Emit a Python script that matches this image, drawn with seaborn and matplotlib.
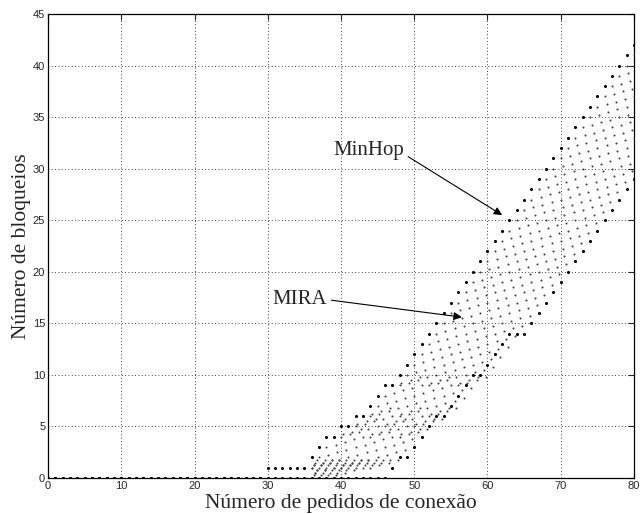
import numpy as np
import pandas as pd
import matplotlib
matplotlib.use("Agg")
import matplotlib.pyplot as plt
import seaborn as sns

# numero de pedidos de conexao
x_all = list(range(0, 81))

# serie superior (pontos escuros)
upper = [0] * 30 + [1, 1, 1, 1, 1, 1,
         2, 3, 4, 4, 5, 5, 6, 6, 7, 8, 9, 9,
         10, 11, 12, 13, 14, 15, 16, 17, 18, 19, 20, 21, 22, 23, 24, 25, 26,
         27, 28, 29, 30, 31, 32, 33, 34, 35, 36, 37, 38, 39, 40, 41, 42]

# serie inferior (pontos escuros)
lower = [0] * 47 + [1, 2, 2, 3, 4, 5, 6, 6, 7, 8, 9, 10, 10, 11, 12, 13,
                    14, 14, 14, 15, 16, 17, 18, 19, 20, 21, 22, 23, 24, 25,
                    26, 27, 28, 29]

# series intermediarias (pontos claros), valores de x = 36 ... 80
band_x = list(range(36, 81))
band = [
    [1, 2, 3, 4, 4, 5, 5, 6, 6, 7, 8, 9, 9, 10, 11, 12, 13, 14, 15, 16, 17,
     18, 19, 20, 21, 22, 23, 24, 25, 26, 27, 28, 29, 30, 31, 32, 33, 34, 35,
     36, 37, 38, 39, 40, 41],
    [1, 1, 2, 3, 4, 4, 5, 5, 6, 6, 7, 8, 9, 9, 10, 11, 12, 13, 14, 15, 16,
     17, 18, 19, 20, 21, 22, 23, 24, 25, 26, 27, 28, 29, 30, 31, 32, 33, 34,
     35, 36, 37, 38, 39, 40],
    [1, 1, 1, 2, 3, 4, 4, 5, 5, 6, 6, 7, 8, 9, 9, 10, 11, 12, 13, 14, 15,
     16, 17, 18, 19, 20, 21, 22, 23, 24, 25, 26, 27, 28, 29, 30, 31, 32, 33,
     34, 35, 36, 37, 38, 39],
    [1, 1, 1, 1, 2, 3, 4, 4, 5, 5, 6, 6, 7, 8, 9, 9, 10, 11, 12, 13, 14,
     15, 16, 17, 18, 19, 20, 21, 22, 23, 24, 25, 26, 27, 28, 29, 30, 31, 32,
     33, 34, 35, 36, 37, 38],
    [1, 1, 1, 1, 1, 2, 3, 4, 4, 5, 5, 6, 6, 7, 8, 9, 9, 10, 11, 12, 13,
     14, 15, 16, 17, 18, 19, 20, 21, 22, 23, 24, 25, 26, 27, 28, 29, 30, 31,
     32, 33, 34, 35, 36, 37],
    [1, 1, 1, 1, 1, 1, 2, 3, 4, 4, 5, 5, 6, 6, 7, 8, 9, 9, 10, 11, 12,
     13, 14, 15, 16, 17, 18, 19, 20, 21, 22, 23, 24, 25, 26, 27, 28, 29, 30,
     31, 32, 33, 34, 35, 36],
    [0, 1, 1, 1, 1, 1, 1, 2, 3, 4, 4, 5, 5, 6, 6, 7, 8, 9, 9, 10, 11,
     12, 13, 14, 15, 16, 17, 18, 19, 20, 21, 22, 23, 24, 25, 26, 27, 28, 29,
     30, 31, 32, 33, 34, 35],
    [0, 0, 1, 1, 1, 1, 1, 1, 2, 3, 4, 4, 5, 5, 6, 6, 7, 8, 9, 9, 10,
     11, 12, 13, 14, 15, 16, 17, 18, 19, 20, 21, 22, 23, 24, 25, 26, 27, 28,
     29, 30, 31, 32, 33, 34],
    [0, 0, 0, 1, 1, 1, 1, 1, 1, 2, 3, 4, 4, 5, 5, 6, 6, 7, 8, 9, 9,
     10, 11, 12, 13, 14, 15, 16, 17, 18, 19, 20, 21, 22, 23, 24, 25, 26, 27,
     28, 29, 30, 31, 32, 33],
    [0, 0, 0, 0, 1, 1, 1, 1, 1, 1, 2, 3, 4, 4, 5, 5, 6, 6, 7, 8, 9,
     9, 10, 11, 12, 13, 14, 15, 16, 17, 18, 19, 20, 21, 22, 23, 24, 25, 26,
     27, 28, 29, 30, 31, 32],
    [0, 0, 0, 0, 0, 1, 1, 1, 1, 1, 1, 2, 3, 4, 4, 5, 5, 6, 6, 7, 8,
     9, 9, 10, 11, 12, 13, 14, 15, 16, 17, 18, 19, 20, 21, 22, 23, 24, 25,
     26, 27, 28, 29, 30, 31],
    [0, 0, 0, 0, 0, 0, 1, 1, 1, 1, 1, 1, 2, 3, 4, 4, 5, 5, 6, 6, 7,
     8, 9, 9, 10, 11, 12, 13, 14, 15, 16, 17, 18, 19, 20, 21, 22, 23, 24,
     25, 26, 27, 28, 29, 30],
]
# deslocamento de cada serie ao longo da diagonal (fracao de passo)
band_shift = [0.0, 0.25, 0.5, 0.75, 0.0, 0.25, 0.5, 0.75, 0.0, 0.25, 0.5, 0.75]

x_ticks = [0, 10, 20, 30, 40, 50, 60, 70, 80]
y_ticks = [0, 5, 10, 15, 20, 25, 30, 35, 40, 45]

# montando os DataFrames
df_band = pd.concat(
    [pd.DataFrame({"x": np.array(band_x) + d, "y": np.array(s) + d})
     for s, d in zip(band, band_shift)],
    ignore_index=True,
)
df_band = df_band[(df_band["y"] > 0) & (df_band["x"] <= 80)]
df_edges = pd.concat(
    [pd.DataFrame({"x": x_all, "y": upper}), pd.DataFrame({"x": x_all, "y": lower})],
    ignore_index=True,
)

sns.set_style("white")
plt.rcParams["font.family"] = ["Liberation Sans", "DejaVu Sans"]

fig = plt.figure(figsize=(6.42, 5.14), dpi=100)
ax = fig.add_axes([0.0748, 0.070, 0.9127, 0.9028])

sns.scatterplot(data=df_band, x="x", y="y", ax=ax, s=2.2, color="#444444",
                linewidth=0, marker="o", zorder=3)
sns.scatterplot(data=df_edges, x="x", y="y", ax=ax, s=5, color="black",
                linewidth=0, marker="o", zorder=4)

ax.set_xlim(0, 80)
ax.set_ylim(0, 45)
ax.set_xticks(x_ticks)
ax.set_yticks(y_ticks)
ax.grid(True, linestyle=(0, (1, 3)), color="black", linewidth=0.6)
ax.tick_params(direction="in", top=True, right=True, length=4, width=0.8,
               labelsize=8, pad=2)
for sp in ax.spines.values():
    sp.set_linewidth(0.9)
    sp.set_color("black")

ax.set_xlabel("Número de pedidos de conexão", family="Liberation Serif",
              fontsize=15.5, labelpad=2)
ax.set_ylabel("Número de bloqueios", family="Liberation Serif",
              fontsize=15.5, labelpad=1)

ax.annotate("MinHop", xy=(62.0, 25.5), xytext=(38.9, 31.8),
            family="Liberation Serif", fontsize=15, va="center", ha="left",
            arrowprops=dict(arrowstyle="-|>", color="black", lw=0.8,
                            mutation_scale=12, shrinkA=1, shrinkB=0,
                            relpos=(1.0, 0.3)))
ax.annotate("MIRA", xy=(56.5, 15.6), xytext=(30.6, 17.3),
            family="Liberation Serif", fontsize=15, va="center", ha="left",
            arrowprops=dict(arrowstyle="-|>", color="black", lw=0.8,
                            mutation_scale=12, shrinkA=1, shrinkB=0,
                            relpos=(1.0, 0.5)))

fig.savefig("out.png", dpi=100)
